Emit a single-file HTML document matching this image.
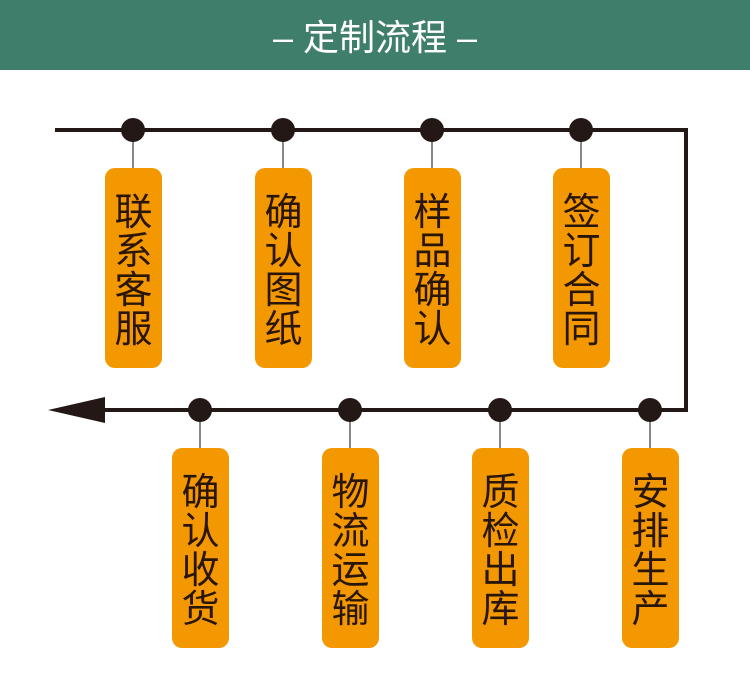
<!DOCTYPE html>
<html><head><meta charset="utf-8"><style>
html,body{margin:0;padding:0;background:#fff;}
svg{display:block;}
text{font-family:"Liberation Sans","Noto Sans CJK SC",sans-serif;}
</style></head><body>
<svg width="750" height="680" viewBox="0 0 750 680" xmlns="http://www.w3.org/2000/svg">
<rect x="0" y="0" width="750" height="70" fill="#3e7e6a"/>
<text x="375" y="50" text-anchor="middle" fill="#fff" font-size="36">– 定制流程 –</text>
<polyline points="55,130 686,130 686,410 100,410" fill="none" stroke="#231815" stroke-width="4"/>
<polygon points="48,410 105,397 105,423" fill="#231815"/>
<g stroke="#888" stroke-width="2">
<line x1="133" y1="130" x2="133" y2="170"/><line x1="283" y1="130" x2="283" y2="170"/>
<line x1="432" y1="130" x2="432" y2="170"/><line x1="581" y1="130" x2="581" y2="170"/>
<line x1="200" y1="410" x2="200" y2="450"/><line x1="350" y1="410" x2="350" y2="450"/>
<line x1="500" y1="410" x2="500" y2="450"/><line x1="650" y1="410" x2="650" y2="450"/>
</g>
<g fill="#231815">
<circle cx="133" cy="130" r="12"/><circle cx="283" cy="130" r="12"/><circle cx="432" cy="130" r="12"/><circle cx="581" cy="130" r="12"/>
<circle cx="200" cy="410" r="12"/><circle cx="350" cy="410" r="12"/><circle cx="500" cy="410" r="12"/><circle cx="650" cy="410" r="12"/>
</g>
<g fill="#f39800">
<rect x="105" y="168" width="57" height="200" rx="10"/><rect x="255" y="168" width="57" height="200" rx="10"/>
<rect x="404" y="168" width="57" height="200" rx="10"/><rect x="553" y="168" width="57" height="200" rx="10"/>
<rect x="172" y="448" width="57" height="200" rx="10"/><rect x="322" y="448" width="57" height="200" rx="10"/>
<rect x="472" y="448" width="57" height="200" rx="10"/><rect x="622" y="448" width="57" height="200" rx="10"/>
</g>
<g fill="#2a1608" font-size="38" text-anchor="middle">
<text><tspan x="133.5" y="225">联</tspan><tspan x="133.5" y="264">系</tspan><tspan x="133.5" y="303">客</tspan><tspan x="133.5" y="342">服</tspan></text>
<text><tspan x="283.5" y="225">确</tspan><tspan x="283.5" y="264">认</tspan><tspan x="283.5" y="303">图</tspan><tspan x="283.5" y="342">纸</tspan></text>
<text><tspan x="432.5" y="225">样</tspan><tspan x="432.5" y="264">品</tspan><tspan x="432.5" y="303">确</tspan><tspan x="432.5" y="342">认</tspan></text>
<text><tspan x="581.5" y="225">签</tspan><tspan x="581.5" y="264">订</tspan><tspan x="581.5" y="303">合</tspan><tspan x="581.5" y="342">同</tspan></text>
<text><tspan x="200.5" y="505">确</tspan><tspan x="200.5" y="544">认</tspan><tspan x="200.5" y="583">收</tspan><tspan x="200.5" y="622">货</tspan></text>
<text><tspan x="350.5" y="505">物</tspan><tspan x="350.5" y="544">流</tspan><tspan x="350.5" y="583">运</tspan><tspan x="350.5" y="622">输</tspan></text>
<text><tspan x="500.5" y="505">质</tspan><tspan x="500.5" y="544">检</tspan><tspan x="500.5" y="583">出</tspan><tspan x="500.5" y="622">库</tspan></text>
<text><tspan x="650.5" y="505">安</tspan><tspan x="650.5" y="544">排</tspan><tspan x="650.5" y="583">生</tspan><tspan x="650.5" y="622">产</tspan></text>
</g>
</svg>
</body></html>
